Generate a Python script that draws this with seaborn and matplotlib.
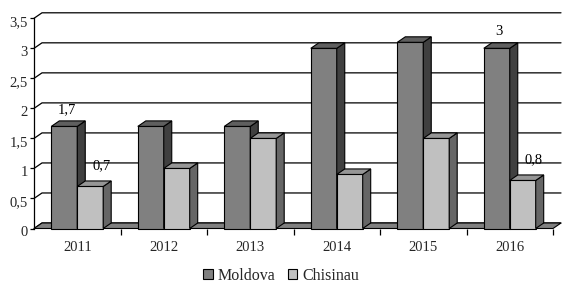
import numpy as np
import pandas as pd
import matplotlib
matplotlib.use("Agg")
import matplotlib.pyplot as plt
import matplotlib.transforms as mtransforms
from matplotlib.patches import Polygon
import seaborn as sns

# 数据
years = ["2011", "2012", "2013", "2014", "2015", "2016"]
moldova = [1.7, 1.7, 1.7, 3.0, 3.1, 3.0]
chisinau = [0.7, 1.0, 1.5, 0.9, 1.5, 0.8]
series_names = ["Moldova", "Chisinau"]
y_ticks = [0, 0.5, 1, 1.5, 2, 2.5, 3, 3.5]
y_tick_labels = ["0", "0,5", "1", "1,5", "2", "2,5", "3", "3,5"]
# 只标注 2011 和 2016 的数值
value_labels = {("Moldova", "2011"): "1,7", ("Chisinau", "2011"): "0,7",
                ("Moldova", "2016"): "3", ("Chisinau", "2016"): "0,8"}

df = pd.DataFrame({
    "year": years * 2,
    "value": moldova + chisinau,
    "series": [series_names[0]] * len(years) + [series_names[1]] * len(years),
})

sns.set_theme(style="white")
plt.rcParams["font.family"] = ["Liberation Serif", "DejaVu Serif"]

W, H = 562, 284
fig = plt.figure(figsize=(W / 100, H / 100), dpi=100)
ax = fig.add_axes([34 / W, 55.5 / H, (553 - 34) / W, (265.7 - 55.5) / H])

front_col = {"Moldova": "#808080", "Chisinau": "#c0c0c0"}
top_col = {"Moldova": "#5f5f5f", "Chisinau": "#969696"}
side_col = {"Moldova": "#404040", "Chisinau": "#666666"}

sns.barplot(data=df, x="year", y="value", hue="series", order=years,
            hue_order=series_names, palette=front_col, width=0.6,
            edgecolor="black", linewidth=0.8, saturation=1, ax=ax, legend=True)
bars = [p for p in ax.patches if p.get_height() > 0 and p.get_width() < 0.5]

ax.set_xlim(-0.5, len(years) - 0.5)
ax.set_ylim(0, 3.5)
fig.canvas.draw()

# 深度偏移（像素 -> 数据单位）
DX, DY = 8, 5.5
inv = ax.transData.inverted()
p0 = inv.transform(ax.transData.transform((0, 0)))
p1 = inv.transform(ax.transData.transform((0, 0)) + np.array([DX, DY]))
ddx, ddy = p1 - p0

x0, x1 = ax.get_xlim()
# 网格线（背墙）
for yv in y_ticks:
    ax.plot([x0, x0 + ddx, x1 + ddx], [yv, yv + ddy, yv + ddy], color="black",
            lw=0.9, zorder=0.5, clip_on=False)
# 地板
ax.add_patch(Polygon([[x0, 0], [x1, 0], [x1 + ddx, ddy], [x0 + ddx, ddy]],
                     closed=True, facecolor="#808080", edgecolor="black",
                     lw=0.8, zorder=0.8, clip_on=False))

# 立体效果
n = len(years)
for i, bar in enumerate(bars):
    s = series_names[i // n]
    z = 2 + (i // n) + (i % n) * 0.01
    bx, bw, bh = bar.get_x(), bar.get_width(), bar.get_height()
    bar.set_zorder(z)
    bar.set_clip_on(False)
    side = Polygon([[bx + bw, 0], [bx + bw + ddx, ddy], [bx + bw + ddx, bh + ddy], [bx + bw, bh]],
                   closed=True, facecolor=side_col[s], edgecolor="black", lw=0.8, zorder=z, clip_on=False)
    top = Polygon([[bx, bh], [bx + bw, bh], [bx + bw + ddx, bh + ddy], [bx + ddx, bh + ddy]],
                  closed=True, facecolor=top_col[s], edgecolor="black", lw=0.8, zorder=z, clip_on=False)
    ax.add_patch(side)
    ax.add_patch(top)
    key = (s, years[i % n])
    if key in value_labels:
        off = (1.5, 9.5) if s == "Moldova" else (8, 12.5)
        ax.annotate(value_labels[key], (bx + bw / 2, bh), xytext=off, textcoords="offset points",
                    ha="center", va="baseline", fontsize=10.5, color="black", zorder=10)

# 坐标轴
for sp in ["top", "right", "bottom"]:
    ax.spines[sp].set_visible(False)
ax.spines["left"].set_color("black")
ax.spines["left"].set_linewidth(0.9)
ax.set_yticks(y_ticks)
ax.set_yticklabels(y_tick_labels)
ax.tick_params(axis="y", length=3, width=0.9, color="black", left=True, pad=1.5, labelsize=10.5)
ax.set_xticks(range(n))
ax.set_xticklabels(years)
ax.tick_params(axis="x", length=0, pad=9, labelsize=10.5)
ax.set_xticks(np.arange(0.5, n, 1), minor=True)
ax.tick_params(axis="x", which="minor", length=4, width=0.9, color="black", bottom=True)
ax.set_xlabel("")
ax.set_ylabel("")
ax.grid(False)
for lab in ax.get_yticklabels():
    lab.set_transform(lab.get_transform() + mtransforms.ScaledTranslation(0, -0.03, fig.dpi_scale_trans))

handles, labels = ax.get_legend_handles_labels()
for h in handles:
    h.set_edgecolor("black")
ax.legend(handles, labels, loc="center", bbox_to_anchor=(281 / W, 1 - 276 / H),
          bbox_transform=fig.transFigure, ncol=2, frameon=False, fontsize=11.5,
          handlelength=0.6, handleheight=0.6, handletextpad=0.3, columnspacing=0.8)

fig.savefig("out.png", dpi=100)
plt.close(fig)
